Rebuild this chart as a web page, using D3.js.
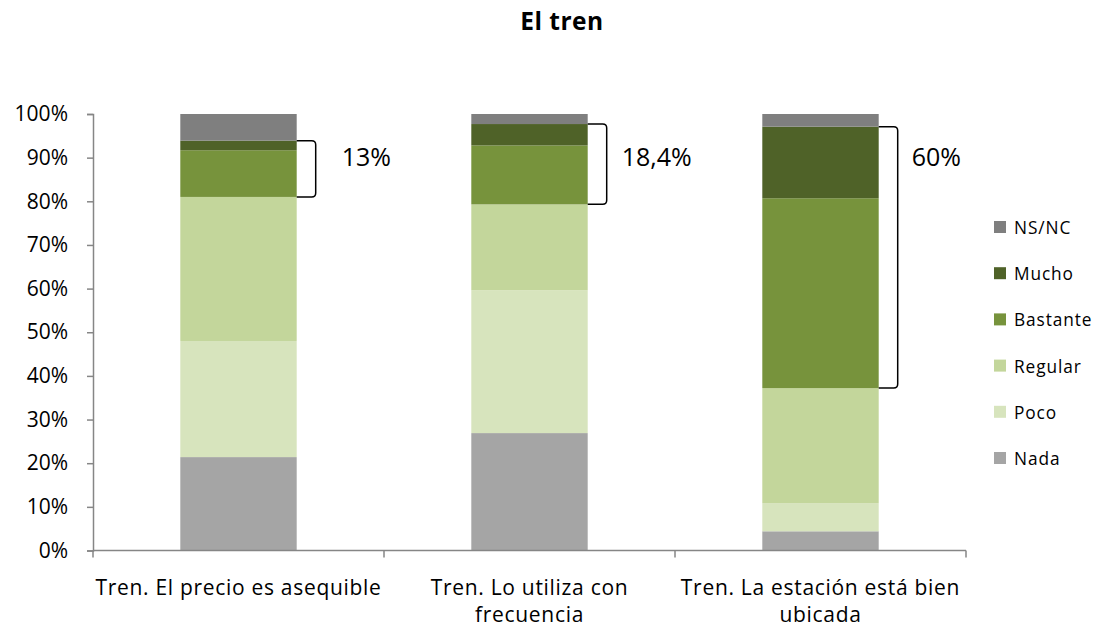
<html>
<head>
<meta charset="utf-8">
<script src="https://d3js.org/d3.v7.min.js"></script>
<style>
  body { margin: 0; background: #fff; }
  text { font-family: "Open Sans", Lato, sans-serif; fill: #000; }
</style>
</head>
<body>
<div id="chart"></div>
<script>

// categories and series (percent of answers)
var categories = ["Tren. El precio es asequible", "Tren. Lo utiliza con frecuencia", "Tren. La estación está bien ubicada"];
var catLines = [["Tren. El precio es asequible"], ["Tren. Lo utiliza con", "frecuencia"], ["Tren. La estación está bien", "ubicada"]];
var series = ["Nada", "Poco", "Regular", "Bastante", "Mucho", "NS/NC"];
var nada     = [21.4, 26.9, 4.4];
var poco     = [26.6, 32.7, 6.4];
var regular  = [33.0, 19.7, 26.4];
var bastante = [10.7, 13.5, 43.5];
var mucho    = [2.2, 4.9, 16.4];
var nsnc     = [6.1, 2.3, 2.9];
var bracketLabels = ["13%", "18,4%", "60%"];
var yTicks = [0, 10, 20, 30, 40, 50, 60, 70, 80, 90, 100];
var colors = ["#a5a5a5", "#d7e4bd", "#c3d69b", "#77933c", "#4f6228", "#7f7f7f"];

var width = 1096, height = 629;
var mLeft = 93, mRight = 966, mTop = 114, mBottom = 550.5;

var svg = d3.select("#chart").append("svg")
    .attr("width", width)
    .attr("height", height);

// title
svg.append("text")
    .attr("x", 562).attr("y", 30)
    .style("text-anchor", "middle")
    .style("font-size", "24.5px")
    .style("font-weight", "bold")
    .style("letter-spacing", "0.5px")
    .text("El tren");

var x = d3.scaleBand().domain(categories).range([mLeft, mRight]).padding(0);
var y = d3.scaleLinear().domain([0, 100]).range([mBottom, mTop]);

// build table for stacking
var table = categories.map(function(c, i) {
  return { cat: c, Nada: nada[i], Poco: poco[i], Regular: regular[i], Bastante: bastante[i], Mucho: mucho[i], "NS/NC": nsnc[i] };
});
var stacked = d3.stack().keys(series)(table);

var barW = x.bandwidth() * 0.4;

svg.append("g").selectAll("g")
  .data(stacked)
  .enter().append("g")
    .attr("fill", function(d, i) { return colors[i]; })
  .selectAll("rect")
  .data(function(d) { return d; })
  .enter().append("rect")
    .attr("x", function(d) { return x(d.data.cat) + x.bandwidth() / 2 - barW / 2; })
    .attr("width", barW)
    .attr("y", function(d) { return y(d[1]); })
    .attr("height", function(d) { return y(d[0]) - y(d[1]); });

// y axis
var yAxis = svg.append("g")
    .attr("transform", "translate(" + mLeft + ",0)")
    .call(d3.axisLeft(y).tickValues(yTicks).tickSize(6).tickPadding(19)
      .tickFormat(function(d) { return d + "%"; }));
yAxis.select(".domain").attr("stroke", "#868686").attr("stroke-width", 1.5);
yAxis.selectAll(".tick line").attr("stroke", "#868686").attr("stroke-width", 1.5);
yAxis.selectAll("text").style("font-size", "21px").attr("fill", "#000")
    .style("font-family", "'Open Sans', Lato, sans-serif");

// x axis (ticks on band edges)
var xAxis = svg.append("g").attr("transform", "translate(0," + mBottom + ")");
xAxis.append("line").attr("x1", mLeft).attr("x2", mRight).attr("stroke", "#868686").attr("stroke-width", 1.5);
xAxis.selectAll("line.tick")
  .data(categories.map(function(c) { return x(c); }).concat([mRight]))
  .enter().append("line")
    .attr("class", "tick")
    .attr("x1", function(d) { return d; }).attr("x2", function(d) { return d; })
    .attr("y1", 0).attr("y2", 7)
    .attr("stroke", "#868686").attr("stroke-width", 1.5);

// category labels
categories.forEach(function(c, i) {
  var cx = x(c) + x.bandwidth() / 2;
  var t = svg.append("text")
      .attr("x", cx)
      .attr("y", 594.5)
      .style("text-anchor", "middle")
      .style("font-size", "21px")
      .style("letter-spacing", "0.7px");
  catLines[i].forEach(function(line, j) {
    t.append("tspan")
      .attr("x", cx)
      .attr("dy", j === 0 ? 0 : 27.5)
      .text(line);
  });
});

// brackets around Bastante + Mucho
var labelOffset = [26, 15, 14];
table.forEach(function(d, i) {
  var barRight = x(d.cat) + x.bandwidth() / 2 + barW / 2;
  var bx = barRight + 19;
  var base = d.Nada + d.Poco + d.Regular;
  var yTop = y(base + d.Bastante + d.Mucho);
  var yBot = y(base);
  var r = 4;
  svg.append("path")
    .attr("d", "M" + barRight + "," + yTop + " H" + (bx - r) + " Q" + bx + "," + yTop + " " + bx + "," + (yTop + r) +
               " V" + (yBot - r) + " Q" + bx + "," + yBot + " " + (bx - r) + "," + yBot + " H" + barRight)
    .attr("fill", "none")
    .attr("stroke", "#000")
    .attr("stroke-width", 1.5);
  svg.append("text")
    .attr("x", bx + labelOffset[i])
    .attr("y", 166)
    .style("font-size", "25px")
    .text(bracketLabels[i]);
});

// legend (top entry is NS/NC)
var legend = svg.append("g");
var legendItems = series.slice().reverse();
legendItems.forEach(function(s, i) {
  var ly = 227 + i * 46.2;
  legend.append("rect")
    .attr("x", 994).attr("y", ly - 6)
    .attr("width", 12).attr("height", 12)
    .attr("fill", colors[series.indexOf(s)]);
  legend.append("text")
    .attr("x", 1014).attr("y", ly + 7)
    .style("font-size", "17.3px")
    .style("letter-spacing", "0.9px")
    .text(s);
});

</script>
</body>
</html>
